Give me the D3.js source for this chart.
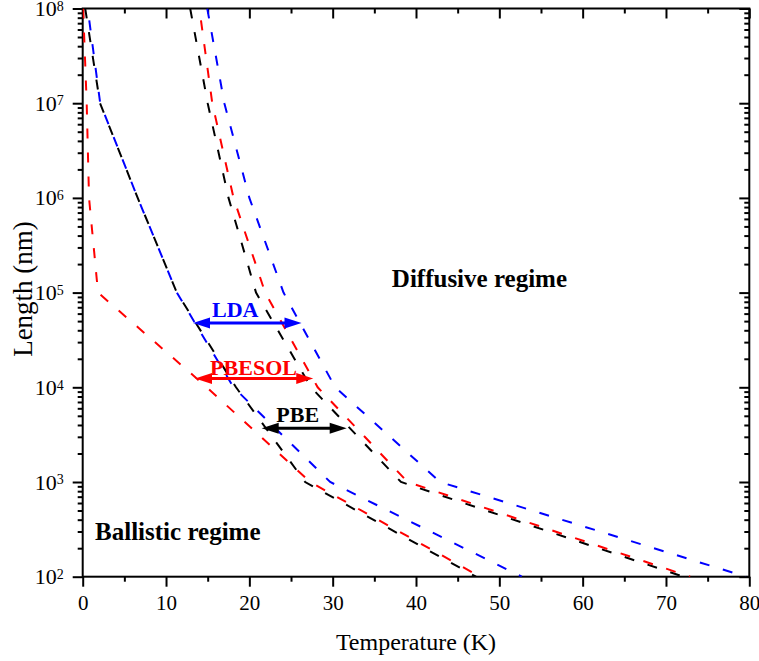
<!DOCTYPE html>
<html>
<head>
<meta charset="utf-8">
<script src="https://cdn.jsdelivr.net/npm/d3@7"></script>
<style>
  html, body { margin: 0; padding: 0; background: #fff; }
  svg { display: block; font-family: "Liberation Serif", "Times New Roman", serif; }
</style>
</head>
<body>
<svg id="chart" width="759" height="661"></svg>
<script>
// Mean free path boundaries: length (nm) at which each functional's phonon
// transport switches regime, as a function of temperature (K).
const lengths = [1e8, 1e7, 1e6, 1e5, 1e4, 1e3, 1e2];

const pbeBallistic    = [0.3, 2.08, 6.6, 11.3, 18.4, 26.7, 47.2];
const pbeDiffusive    = [12.9, 15.0, 17.5, 20.8, 27.4, 38.2, 72.1];
const pbesolBallistic = [0.05, 0.48, 0.76, 1.84, 14.9, 27.3, 47.7];
const pbesolDiffusive = [14.0, 15.55, 18.1, 21.9, 28.2, 39.0, 72.9];
const ldaBallistic    = [0.6, 2.1, 6.6, 11.3, 18.1, 29.7, 52.7];
const ldaDiffusive    = [14.95, 17.0, 20.0, 24.1, 30.3, 42.9, 79.6];

// Double arrows spanning the gap between the two boundaries of each functional
const arrowNames   = ["LDA", "PBESOL", "PBE"];
const arrowLengths = [4.77e4, 1.24e4, 3.69e3];
const arrowFromT   = [13.24, 13.48, 21.48];
const arrowToT     = [26.26, 27.67, 31.68];
const arrowLabelT  = [18.3, 20.5, 25.8];

const xTicks = [0, 10, 20, 30, 40, 50, 60, 70, 80];
const xMinorTicks = [5, 15, 25, 35, 45, 55, 65, 75];
const yTicks = [1e2, 1e3, 1e4, 1e5, 1e6, 1e7, 1e8];

const series = [
  { T: pbeBallistic,    color: "#000000", offset: 0 },
  { T: pbeDiffusive,    color: "#000000", offset: 0 },
  { T: pbesolBallistic, color: "#ff0000", offset: 0 },
  { T: pbesolDiffusive, color: "#ff0000", offset: 12 },
  { T: ldaBallistic,    color: "#0000ff", offset: 12 },
  { T: ldaDiffusive,    color: "#0000ff", offset: 0 }
];
const arrowColors = ["#0000ff", "#ff0000", "#000000"];

const svg = d3.select("#chart");
const W = 759, H = 661;
const margin = { left: 82.7, top: 8.5, right: 9.7, bottom: 84.3 };

const x = d3.scaleLinear().domain([0, 80]).range([margin.left, W - margin.right]);
const y = d3.scaleLog().domain([1e2, 1e8]).range([H - margin.bottom, margin.top]);

const minorY = [];
for (let e = 2; e < 8; e++) for (let m = 2; m <= 9; m++) minorY.push(m * Math.pow(10, e));

// Clip curves to the plotting frame
svg.append("defs").append("clipPath").attr("id", "plot-clip")
  .append("rect")
  .attr("x", x(0)).attr("y", y(1e8))
  .attr("width", x(80) - x(0)).attr("height", y(1e2) - y(1e8));

// Axes
function styleAxis(g) {
  g.select(".domain").remove();
  g.selectAll(".tick line").attr("stroke", "#000").attr("stroke-width", 2);
}

const bottom = svg.append("g").attr("transform", `translate(0,${y(1e2)})`)
  .call(d3.axisBottom(x).tickValues(xTicks).tickSize(10).tickPadding(8).tickFormat(d3.format("d")))
  .call(styleAxis);
bottom.selectAll("text").attr("font-size", 21).attr("font-family", "Liberation Serif, serif").attr("fill", "#000");

svg.append("g").attr("transform", `translate(0,${y(1e2)})`)
  .call(d3.axisBottom(x).tickValues(xMinorTicks).tickSize(5).tickFormat(""))
  .call(styleAxis);

svg.append("g").attr("transform", `translate(0,${y(1e8)})`)
  .call(d3.axisTop(x).tickValues(xTicks).tickSize(-10).tickFormat(""))
  .call(styleAxis);
svg.append("g").attr("transform", `translate(0,${y(1e8)})`)
  .call(d3.axisTop(x).tickValues(xMinorTicks).tickSize(-5).tickFormat(""))
  .call(styleAxis);

const left = svg.append("g").attr("transform", `translate(${x(0)},0)`)
  .call(d3.axisLeft(y).tickValues(yTicks).tickSize(10).tickPadding(9).tickFormat(() => ""))
  .call(styleAxis);
left.selectAll(".tick text").each(function (d) {
  const t = d3.select(this)
    .attr("font-size", 22).attr("font-family", "Liberation Serif, serif").attr("fill", "#000");
  t.append("tspan").text("10");
  t.append("tspan").attr("dy", "-0.38em").attr("font-size", 14).text(Math.round(Math.log10(d)));
});
svg.append("g").attr("transform", `translate(${x(0)},0)`)
  .call(d3.axisLeft(y).tickValues(minorY).tickSize(5).tickFormat(""))
  .call(styleAxis);

svg.append("g").attr("transform", `translate(${x(80)},0)`)
  .call(d3.axisRight(y).tickValues(yTicks).tickSize(-10).tickFormat(""))
  .call(styleAxis);
svg.append("g").attr("transform", `translate(${x(80)},0)`)
  .call(d3.axisRight(y).tickValues(minorY).tickSize(-5).tickFormat(""))
  .call(styleAxis);

// Frame
svg.append("rect")
  .attr("x", x(0)).attr("y", y(1e8))
  .attr("width", x(80) - x(0)).attr("height", y(1e2) - y(1e8))
  .attr("fill", "none").attr("stroke", "#000").attr("stroke-width", 2);

// Boundary curves
const line = d3.line().x(d => x(d[0])).y(d => y(d[1]));
const curves = svg.append("g").attr("clip-path", "url(#plot-clip)");
series.forEach(s => {
  curves.append("path")
    .datum(s.T.map((t, i) => [t, lengths[i]]))
    .attr("d", line)
    .attr("fill", "none")
    .attr("stroke", s.color)
    .attr("stroke-width", 2)
    .attr("stroke-dasharray", "10,14")
    .attr("stroke-dashoffset", s.offset);
});

// Double-headed arrows with labels
const headLen = 17, headHalf = 5.5;
arrowNames.forEach((name, i) => {
  const c = arrowColors[i];
  const yy = y(arrowLengths[i]);
  const x1 = x(arrowFromT[i]), x2 = x(arrowToT[i]);
  const g = svg.append("g");
  g.append("line")
    .attr("x1", x1 + headLen - 2).attr("x2", x2 - headLen + 2)
    .attr("y1", yy).attr("y2", yy)
    .attr("stroke", c).attr("stroke-width", 3);
  g.append("path")
    .attr("d", `M${x1},${yy}L${x1 + headLen},${yy - headHalf}L${x1 + headLen},${yy + headHalf}Z`)
    .attr("fill", c);
  g.append("path")
    .attr("d", `M${x2},${yy}L${x2 - headLen},${yy - headHalf}L${x2 - headLen},${yy + headHalf}Z`)
    .attr("fill", c);
  g.append("text")
    .attr("x", x(arrowLabelT[i]))
    .attr("y", yy - (name === "PBESOL" ? 3.5 : 6.3))
    .attr("text-anchor", "middle")
    .attr("font-size", 22).attr("font-weight", "bold")
    .attr("fill", c)
    .text(name);
});

// Regime labels
svg.append("text")
  .attr("x", x(37.1)).attr("y", y(Math.pow(10, 5.062)))
  .attr("font-size", 25).attr("font-weight", "bold").attr("fill", "#000")
  .text("Diffusive regime");
svg.append("text")
  .attr("x", x(1.48)).attr("y", y(Math.pow(10, 2.388)))
  .attr("font-size", 25).attr("font-weight", "bold").attr("fill", "#000")
  .text("Ballistic regime");

// Axis titles
svg.append("text")
  .attr("x", (x(0) + x(80)) / 2).attr("y", 650)
  .attr("text-anchor", "middle").attr("font-size", 24).attr("fill", "#000")
  .text("Temperature (K)");
svg.append("text")
  .attr("transform", `translate(32,${289}) rotate(-90)`)
  .attr("text-anchor", "middle").attr("font-size", 27).attr("fill", "#000")
  .text("Length (nm)");
</script>
</body>
</html>
